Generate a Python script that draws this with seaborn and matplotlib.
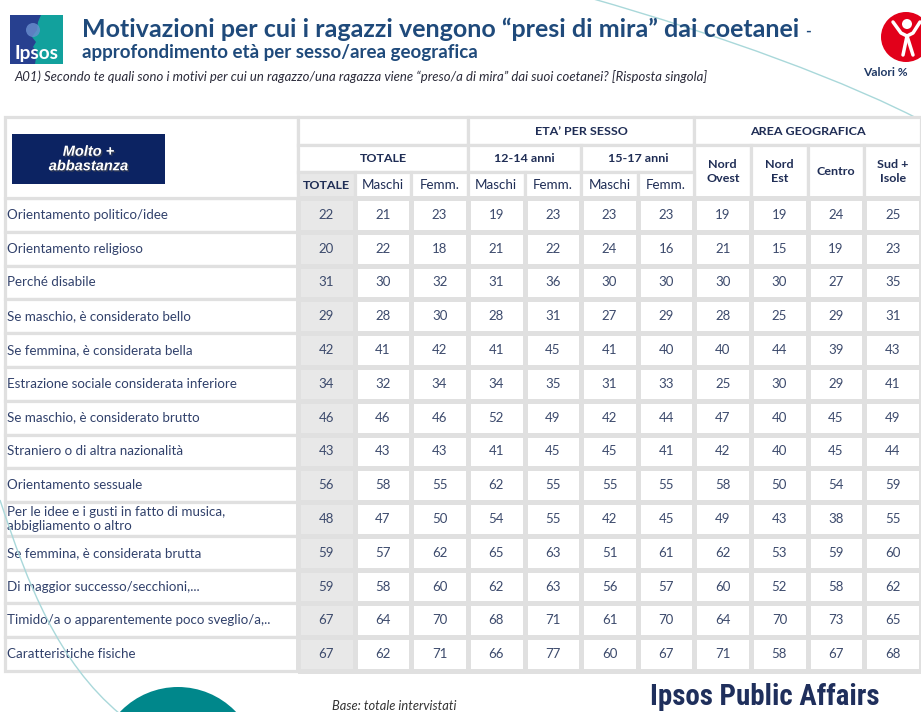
import matplotlib
matplotlib.use("Agg")
import numpy as np
import pandas as pd
import seaborn as sns
import matplotlib.pyplot as plt
import matplotlib.patheffects as pe
from matplotlib.patches import Rectangle, Circle, PathPatch, Polygon
from matplotlib.path import Path
from matplotlib.colors import ListedColormap
from matplotlib import font_manager

# ---------------- data ----------------
categories = [
    "Orientamento politico/idee",
    "Orientamento religioso",
    "Perché disabile",
    "Se maschio, è considerato bello",
    "Se femmina, è considerata bella",
    "Estrazione sociale considerata inferiore",
    "Se maschio, è considerato brutto",
    "Straniero o di altra nazionalità",
    "Orientamento sessuale",
    "Per le idee e i gusti in fatto di musica,\nabbigliamento o altro",
    "Se femmina, è considerata brutta",
    "Di maggior successo/secchioni,...",
    "Timido/a o apparentemente poco sveglio/a,..",
    "Caratteristiche fisiche",
]
column_labels = ["TOTALE", "Maschi", "Femm.", "Maschi", "Femm.", "Maschi", "Femm.",
                 "Nord\nOvest", "Nord\nEst", "Centro", "Sud +\nIsole"]
totale     = [22, 20, 31, 29, 42, 34, 46, 43, 56, 48, 59, 59, 67, 67]
maschi     = [21, 22, 30, 28, 41, 32, 46, 43, 58, 47, 57, 58, 64, 62]
femmine    = [23, 18, 32, 30, 42, 34, 46, 43, 55, 50, 62, 60, 70, 71]
m_12_14    = [19, 21, 31, 28, 41, 34, 52, 41, 62, 54, 65, 62, 68, 66]
f_12_14    = [23, 22, 36, 31, 45, 35, 49, 45, 55, 55, 63, 63, 71, 77]
m_15_17    = [23, 24, 30, 27, 41, 31, 42, 45, 55, 42, 51, 56, 61, 60]
f_15_17    = [23, 16, 30, 29, 40, 33, 44, 41, 55, 45, 61, 57, 70, 67]
nord_ovest = [19, 21, 30, 28, 40, 25, 47, 42, 58, 49, 62, 60, 64, 71]
nord_est   = [19, 15, 30, 25, 44, 30, 40, 40, 50, 43, 53, 52, 70, 58]
centro     = [24, 19, 27, 29, 39, 29, 45, 45, 54, 38, 59, 58, 73, 67]
sud_isole  = [25, 23, 35, 31, 43, 41, 49, 44, 59, 55, 60, 62, 65, 68]

series = [totale, maschi, femmine, m_12_14, f_12_14, m_15_17, f_15_17,
          nord_ovest, nord_est, centro, sud_isole]
col_keys = ["tot", "tot_m", "tot_f", "m1214", "f1214", "m1517", "f1517",
            "no", "ne", "ce", "si"]
values = pd.DataFrame({k: v for k, v in zip(col_keys, series)}, index=categories)
shade = pd.DataFrame({k: [0 if k == "tot" else 1] * len(categories) for k in col_keys},
                     index=categories)

# ---------------- style ----------------
sns.set_theme(style="white")
BODY = ["Lato", "DejaVu Sans"]
plt.rcParams["font.family"] = BODY

names = {f.name for f in font_manager.fontManager.ttflist}
narrow = next((n for n in ["Liberation Sans Narrow", "Roboto Condensed", "Open Sans Condensed"]
               if n in names), "Roboto")

GRID = "#e0e0e0"
GRAY = "#e8e8e8"
NUM_C = "#3c4a6c"
LAB_C = "#31416b"
HEAD_C = "#1f2d55"
TITLE_C = "#1f4a7b"
LW = 2.3

W, H = 921, 712
fig = plt.figure(figsize=(9.21, 7.12), dpi=100)
fig.patch.set_facecolor("white")
r = fig.canvas.get_renderer()

def fit(t, target):
    w = t.get_window_extent(r).width
    t.set_fontsize(t.get_fontsize() * target / w)
    return t

bg = fig.add_axes([0, 0, 1, 1], zorder=0)
bg.set_xlim(0, W); bg.set_ylim(H, 0); bg.axis("off")

# decorative curve top-right (behind table)
curve_c = "#a9d8da"
p = Path([(590, -2), (720, 35), (850, 82), (930, 125)],
         [Path.MOVETO, Path.CURVE4, Path.CURVE4, Path.CURVE4])
bg.add_patch(PathPatch(p, fc="none", ec=curve_c, lw=1.0))

# Ipsos logo
bg.add_patch(Rectangle((10, 15), 53, 49, fc="#27408f", ec="none"))
bg.add_patch(Polygon([(41, 15), (63, 15), (63, 64), (35, 64), (37, 52), (33, 47),
                      (36, 42), (32, 37), (37, 30), (38, 22)], fc="#12a19d", ec="none"))
bg.add_patch(Circle((33, 30), 7, fc="#6a8fd0", ec="none", alpha=0.8))
ti = bg.text(36.5, 59, "Ipsos", color="white", fontsize=12, fontweight="bold",
             ha="center", va="baseline")
fit(ti, 44)

# titles
t1 = bg.text(82, 37, "Motivazioni per cui i ragazzi vengono “presi di mira” dai coetanei",
             color=TITLE_C, fontsize=18, fontweight="bold", ha="left", va="baseline")
fit(t1, 718)
x_end = t1.get_window_extent(r).x1
bg.text(x_end + 6, 36, "-", color=TITLE_C, fontsize=11, fontweight="bold",
        ha="left", va="baseline")
t2 = bg.text(82, 58, "approfondimento età per sesso/area geografica",
             color=TITLE_C, fontsize=13, fontweight="bold", ha="left", va="baseline")
fit(t2, 396)
t3 = bg.text(14, 81, "A01) Secondo te quali sono i motivi per cui un ragazzo/una ragazza viene "
             "“preso/a di mira” dai suoi coetanei? [Risposta singola]",
             color="#2b2b3a", fontsize=8, style="italic", ha="left", va="baseline")
fit(t3, 688)

# Save the Children-like logo and "Valori %"
bg.add_patch(Circle((906, 37), 25, fc="#e2001a", ec="none"))
bg.add_patch(Circle((907, 24), 5, fc="white", ec="none"))
bg.plot([893, 901, 907, 913, 920], [22, 33, 36, 33, 22], color="white", lw=2.5,
        solid_capstyle="round")
bg.plot([907, 903], [36, 55], color="white", lw=2.5, solid_capstyle="round")
bg.plot([907, 913], [36, 55], color="white", lw=2.5, solid_capstyle="round")
tv = bg.text(863, 76, "Valori %", color="#1f3864", fontsize=8, fontweight="bold",
             ha="left", va="baseline")
fit(tv, 45)

# bottom decorations
bg.add_patch(Circle((178, 767), 80, fc="#00878b", ec="none"))
tb = bg.text(332, 710, "Base: totale intervistati", color="#333333", fontsize=7,
             style="italic", ha="left", va="baseline")
fit(tb, 125)
tp = bg.text(650, 705, "Ipsos Public Affairs", color="#1f2f5c", fontsize=18,
             fontweight="bold", ha="left", va="baseline", family=[narrow, "DejaVu Sans"])
fit(tp, 230)

# ---------------- table ----------------
X0, XD, X1 = 5, 298, 921
YT, YD, YB = 117, 198, 671
ncol, nrow = len(col_keys), len(categories)
cw = (X1 - XD) / ncol
rh = (YB - YD) / nrow
L = (XD - X0) / cw
HH = (YD - YT) / rh

ax = fig.add_axes([X0 / W, 1 - YB / H, (X1 - X0) / W, (YB - YT) / H], zorder=2)

# number font size: digits "22" about 15 px wide
tmp = ax.text(0, 0, "22", fontsize=10)
num_fs = 10 * 15.5 / tmp.get_window_extent(r).width
tmp.remove()

sns.heatmap(shade, annot=values, fmt="d", cmap=ListedColormap([GRAY, "white"]),
            vmin=0, vmax=1, cbar=False, linewidths=LW, linecolor=GRID, ax=ax,
            annot_kws={"color": NUM_C, "fontsize": num_fs, "family": BODY})
ax.collections[0].set_clip_on(False)
ax.set_xlim(-L, ncol)
ax.set_ylim(nrow, -HH)
ax.set_xticks([]); ax.set_yticks([])
ax.set_xlabel(""); ax.set_ylabel("")
for s in ax.spines.values():
    s.set_visible(False)

def cell(x0, y0, x1, y1, fc="white"):
    ax.add_patch(Rectangle((x0, y0), x1 - x0, y1 - y0, fc=fc, ec=GRID, lw=LW,
                           clip_on=False, zorder=0.5))

# label column
tmp = ax.text(0, 0, categories[0], fontsize=10)
lab_fs = 10 * 161 / tmp.get_window_extent(r).width
tmp.remove()
for i, lab in enumerate(categories):
    cell(-L, i, 0, i + 1)
    ax.text(-L + 0.035, i + 0.5, lab, ha="left", va="center", color=LAB_C,
            fontsize=lab_fs, linespacing=1.2, zorder=3)

# header
r1, r2, r3 = -HH, -HH + 28 / rh, -HH + 55 / rh
cell(-L, r1, 0, 0)
tmp = ax.text(0, 0, "AREA GEOGRAFICA", fontsize=10, fontweight="bold")
hb_fs = 10 * 115 / tmp.get_window_extent(r).width
tmp.remove()
tmp = ax.text(0, 0, "Maschi", fontsize=10)
hr_fs = 10 * 42 / tmp.get_window_extent(r).width
tmp.remove()

def htext(x, y, s, bold=True, fs=None):
    ax.text(x, y, s, ha="center", va="center", color=HEAD_C,
            fontsize=fs or (hb_fs if bold else hr_fs),
            fontweight="bold" if bold else "normal", linespacing=1.25, zorder=3)

# row 1
cell(0, r1, 3, r2)
cell(3, r1, 7, r2); htext(5, (r1 + r2) / 2, "ETA’ PER SESSO")
cell(7, r1, 11, r2); htext(9, (r1 + r2) / 2, "AREA GEOGRAFICA")
# row 2
cell(0, r2, 3, r3); htext(1.5, (r2 + r3) / 2, "TOTALE")
cell(3, r2, 5, r3); htext(4, (r2 + r3) / 2, "12-14 anni")
cell(5, r2, 7, r3); htext(6, (r2 + r3) / 2, "15-17 anni")
for j in range(7, 11):
    cell(j, r2, j + 1, 0)
    htext(j + 0.5, (r2 + 0) / 2, column_labels[j])
# row 3
for j in range(7):
    cell(j, r3, j + 1, 0, fc=GRAY if j == 0 else "white")
    htext(j + 0.5, r3 / 2, column_labels[j], bold=(j == 0))

# ---------------- overlay ----------------
top = fig.add_axes([0, 0, 1, 1], zorder=5)
top.set_xlim(0, W); top.set_ylim(H, 0); top.axis("off")
top.patch.set_alpha(0)

top.add_patch(Rectangle((12, 134), 153, 50, fc="#0c2362", ec="none"))
top.text(88.5, 159, "Molto +\nabbastanza", color="white", fontsize=10.5,
         fontweight="bold", style="italic", ha="center", va="center",
         linespacing=1.05, family=["Liberation Sans", "DejaVu Sans"],
         path_effects=[pe.SimplePatchShadow(offset=(1, -1), alpha=0.6), pe.Normal()])

p2 = Path([(0, 500), (28, 585), (58, 662), (120, 714)],
          [Path.MOVETO, Path.CURVE4, Path.CURVE4, Path.CURVE4])
top.add_patch(PathPatch(p2, fc="none", ec=curve_c, lw=1.0))

fig.savefig("out.png", dpi=100, facecolor="white")
